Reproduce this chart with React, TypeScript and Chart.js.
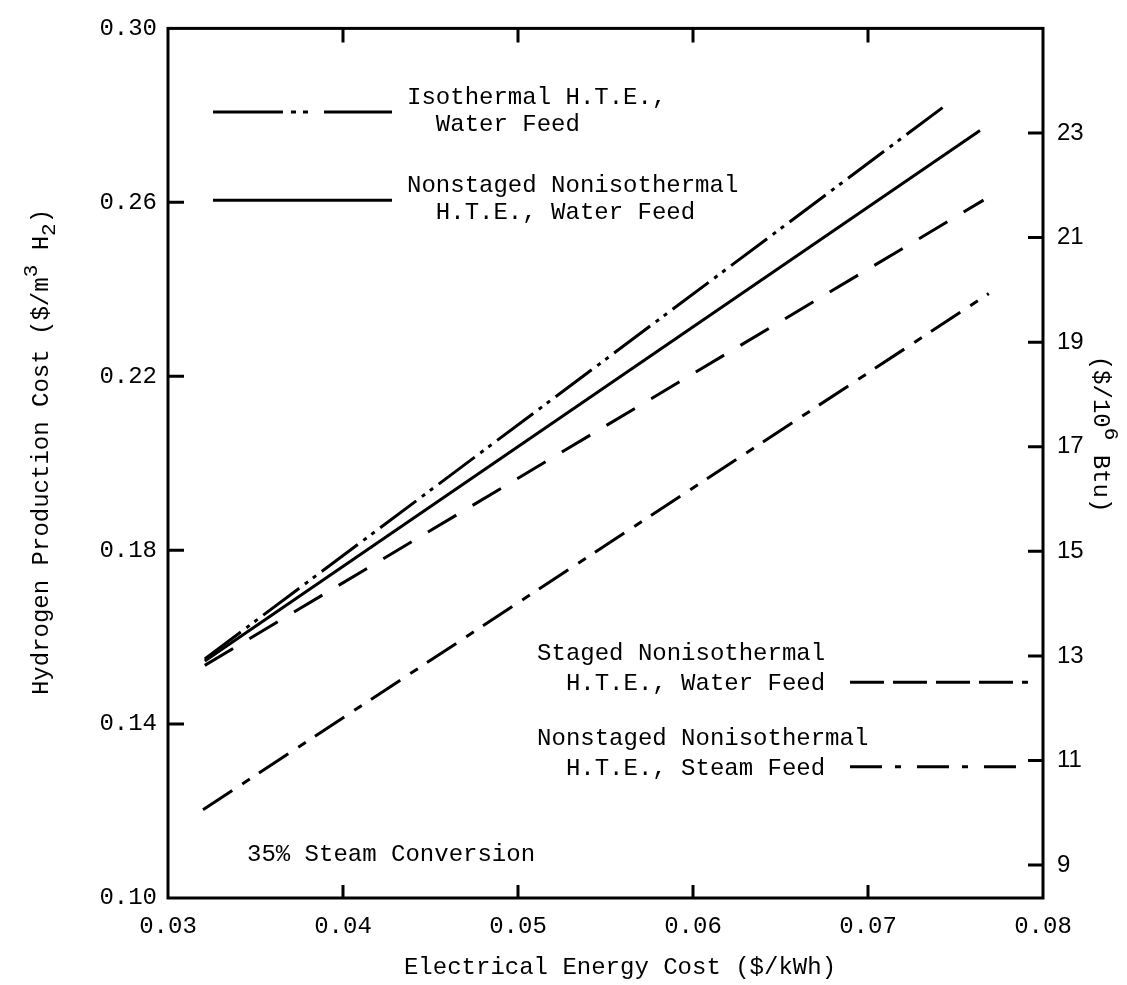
import React, { useEffect, useRef } from "react";
import { Chart, registerables } from "chart.js";

Chart.register(...registerables);

// Electrical energy cost ($/kWh) and hydrogen production cost ($/m3 H2) for each process
const isothermalX = [0.0321, 0.0743];
const isothermalY = [0.155, 0.2819];
const nonstagedWaterX = [0.0321, 0.0764];
const nonstagedWaterY = [0.1545, 0.2765];
const stagedWaterX = [0.0321, 0.0766];
const stagedWaterY = [0.1535, 0.2605];
const nonstagedSteamX = [0.032, 0.0769];
const nonstagedSteamY = [0.1203, 0.239];

// Axis ticks
const xTicks = [0.03, 0.04, 0.05, 0.06, 0.07, 0.08];
const yTicks = [0.1, 0.14, 0.18, 0.22, 0.26, 0.3];
const btuTicks = [9, 11, 13, 15, 17, 19, 21, 23];
const btuMin = 8.37;
const btuMax = 25.0;

const MONO = '"Liberation Mono", "DejaVu Sans Mono", monospace';
const SANS = '"Liberation Sans", Arial, sans-serif';

const ISO_DASH = [45, 7, 4, 6, 4, 7];
const STAGED_DASH = [33, 19];
const STEAM_DASH = [35, 12, 9, 11];

type Part = { text: string; shift?: number };

function drawRich(
  ctx: CanvasRenderingContext2D,
  parts: Part[],
  cx: number,
  cy: number,
  angle: number,
  font: string,
  smallFont: string
) {
  ctx.save();
  ctx.translate(cx, cy);
  ctx.rotate(angle);
  ctx.textAlign = "left";
  ctx.textBaseline = "middle";
  let total = 0;
  const widths: number[] = [];
  for (const p of parts) {
    ctx.font = p.shift ? smallFont : font;
    const w = ctx.measureText(p.text).width;
    widths.push(w);
    total += w;
  }
  let x = -total / 2;
  parts.forEach((p, i) => {
    ctx.font = p.shift ? smallFont : font;
    ctx.fillText(p.text, x, p.shift || 0);
    x += widths[i];
  });
  ctx.restore();
}

const decorPlugin = {
  id: "decor",
  afterDraw(chart: any) {
    const { ctx, chartArea: a, scales } = chart;
    const xs = scales.x;
    const ys = scales.y;
    const y2 = scales.y2;
    ctx.save();
    ctx.strokeStyle = "#000";
    ctx.fillStyle = "#000";

    // frame
    ctx.lineWidth = 3;
    ctx.setLineDash([]);
    ctx.strokeRect(a.left, a.top, a.right - a.left, a.bottom - a.top);

    // inward tick marks
    ctx.lineWidth = 3;
    ctx.beginPath();
    xTicks.slice(1, -1).forEach((v) => {
      const px = xs.getPixelForValue(v);
      ctx.moveTo(px, a.bottom);
      ctx.lineTo(px, a.bottom - 13);
      ctx.moveTo(px, a.top);
      ctx.lineTo(px, a.top + 14);
    });
    yTicks.slice(1, -1).forEach((v) => {
      const py = ys.getPixelForValue(v);
      ctx.moveTo(a.left, py);
      ctx.lineTo(a.left + 16, py);
    });
    btuTicks.forEach((v) => {
      const py = y2.getPixelForValue(v);
      ctx.moveTo(a.right, py);
      ctx.lineTo(a.right - 15, py);
    });
    ctx.stroke();

    // legend keys
    const font = `24px ${MONO}`;
    ctx.font = font;
    ctx.textAlign = "left";
    ctx.textBaseline = "alphabetic";
    const key = (x0: number, x1: number, y: number, dash: number[]) => {
      ctx.save();
      ctx.lineWidth = 3;
      ctx.setLineDash(dash);
      ctx.beginPath();
      ctx.moveTo(xs.getPixelForValue(x0), ys.getPixelForValue(y));
      ctx.lineTo(xs.getPixelForValue(x1), ys.getPixelForValue(y));
      ctx.stroke();
      ctx.restore();
    };
    const upperKeys = [
      { y: 0.2808, dash: [70, 8, 5, 7, 5, 16], lines: ["Isothermal H.T.E.,", "  Water Feed"] },
      { y: 0.2605, dash: [], lines: ["Nonstaged Nonisothermal", "  H.T.E., Water Feed"] },
    ];
    upperKeys.forEach((k) => {
      key(0.03257, 0.0428, k.y, k.dash);
      const tx = xs.getPixelForValue(0.04366);
      const ty = ys.getPixelForValue(k.y);
      ctx.fillText(k.lines[0], tx, ty - 8);
      ctx.fillText(k.lines[1], tx, ty + 19);
    });
    const lowerKeys = [
      { y: 0.1496, dash: [34, 9], lines: ["Staged Nonisothermal", "  H.T.E., Water Feed"] },
      { y: 0.1302, dash: [32, 13, 6, 16], lines: ["Nonstaged Nonisothermal", "  H.T.E., Steam Feed"] },
    ];
    lowerKeys.forEach((k) => {
      key(0.06897, 0.07914, k.y, k.dash);
      const tx = xs.getPixelForValue(0.05109);
      const ty = ys.getPixelForValue(k.y);
      ctx.fillText(k.lines[0], tx, ty - 22);
      ctx.fillText(k.lines[1], tx, ty + 8);
    });

    ctx.fillText("35% Steam Conversion", xs.getPixelForValue(0.034514), ys.getPixelForValue(0.10846));

    // axis titles
    ctx.textAlign = "center";
    ctx.fillText("Electrical Energy Cost ($/kWh)", 620, 974);
    const small = `21px ${MONO}`;
    drawRich(
      ctx,
      [
        { text: "Hydrogen Production Cost ($/m" },
        { text: "3", shift: -11 },
        { text: " H" },
        { text: "2", shift: 7 },
        { text: ")" },
      ],
      42,
      452,
      -Math.PI / 2,
      font,
      small
    );
    drawRich(
      ctx,
      [{ text: "($/10" }, { text: "6", shift: -11 }, { text: " Btu)" }],
      1100,
      434,
      Math.PI / 2,
      font,
      small
    );
    ctx.restore();
  },
};

export default function App() {
  const ref = useRef<HTMLCanvasElement | null>(null);

  useEffect(() => {
    if (!ref.current) return;
    const pts = (xs: number[], ys: number[]) => xs.map((x, i) => ({ x, y: ys[i] }));
    const line = (label: string, data: any[], dash: number[]) => ({
      label,
      data,
      borderColor: "#000",
      borderWidth: 3,
      borderDash: dash,
      borderCapStyle: "butt",
      pointRadius: 0,
      fill: false,
      tension: 0,
      yAxisID: "y",
    });
    const chart = new Chart(ref.current, {
      type: "line",
      data: {
        datasets: [
          line("Isothermal H.T.E., Water Feed", pts(isothermalX, isothermalY), ISO_DASH),
          line("Nonstaged Nonisothermal H.T.E., Water Feed", pts(nonstagedWaterX, nonstagedWaterY), []),
          line("Staged Nonisothermal H.T.E., Water Feed", pts(stagedWaterX, stagedWaterY), STAGED_DASH),
          line("Nonstaged Nonisothermal H.T.E., Steam Feed", pts(nonstagedSteamX, nonstagedSteamY), STEAM_DASH),
        ] as any,
      },
      options: {
        animation: false,
        responsive: false,
        devicePixelRatio: 1,
        layout: { padding: { top: 24, left: 0, right: 0, bottom: 0 } },
        plugins: { legend: { display: false }, tooltip: { enabled: false } },
        scales: {
          x: {
            type: "linear",
            min: 0.03,
            max: 0.08,
            afterBuildTicks: (s: any) => {
              s.ticks = xTicks.map((value) => ({ value }));
            },
            afterFit: (s: any) => {
              s.height = 87;
            },
            grid: { display: false, drawTicks: false },
            border: { display: false },
            ticks: {
              color: "#000",
              font: { family: MONO, size: 24 },
              padding: 14,
              maxRotation: 0,
              callback: (v: any) => Number(v).toFixed(2),
            },
          },
          y: {
            type: "linear",
            position: "left",
            min: 0.1,
            max: 0.3,
            afterBuildTicks: (s: any) => {
              s.ticks = yTicks.map((value) => ({ value }));
            },
            afterFit: (s: any) => {
              s.width = 168;
            },
            grid: { display: false, drawTicks: false },
            border: { display: false },
            ticks: {
              color: "#000",
              font: { family: MONO, size: 24 },
              padding: 11,
              callback: (v: any) => Number(v).toFixed(2),
            },
          },
          y2: {
            type: "linear",
            position: "right",
            min: btuMin,
            max: btuMax,
            afterBuildTicks: (s: any) => {
              s.ticks = btuTicks.map((value) => ({ value }));
            },
            afterFit: (s: any) => {
              s.width = 84;
            },
            grid: { display: false, drawTicks: false },
            border: { display: false },
            ticks: {
              color: "#000",
              font: { family: SANS, size: 24 },
              padding: 14,
              callback: (v: any) => String(v),
            },
          },
        },
      } as any,
      plugins: [decorPlugin],
    });
    return () => chart.destroy();
  }, []);

  return (
    <div style={{ position: "absolute", left: 0, top: 0, width: 1127, height: 985, background: "#fff" }}>
      <canvas ref={ref} width={1127} height={985} style={{ width: 1127, height: 985, display: "block" }} />
    </div>
  );
}
